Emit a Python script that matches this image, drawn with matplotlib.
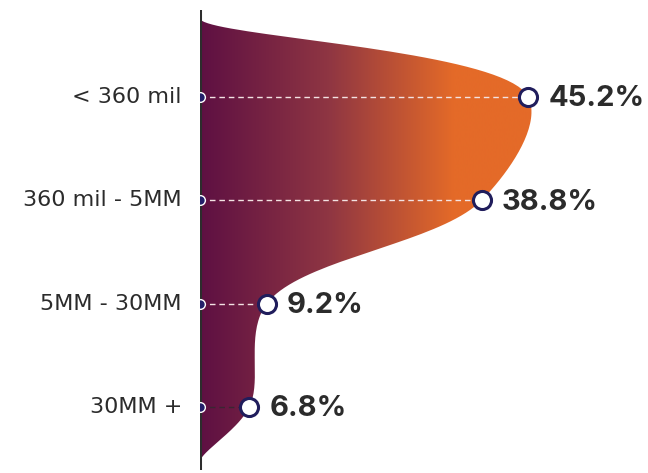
import numpy as np
import matplotlib.pyplot as plt
from matplotlib.path import Path
from matplotlib.patches import PathPatch
from matplotlib.colors import LinearSegmentedColormap

# Share of customers by revenue band
bands = ["< 360 mil", "360 mil - 5MM", "5MM - 30MM", "30MM +"]
shares = [45.2, 38.8, 9.2, 6.8]

# the filled shape closes on the axis just above and below the bands
top_pad = -0.75
bottom_pad = 3.52

plt.rcParams['font.family'] = ['DejaVu Sans']

fig = plt.figure(figsize=(6.48, 4.73), dpi=100)
ax = fig.add_axes([200 / 648, 3 / 473, 448 / 648, 460 / 473])
ax.set_xlim(0, 61.7)
ax.set_ylim(3.61, -0.84)
ax.axis('off')


def catmull_rom(pts, alpha=0.5, steps=40):
    # centripetal Catmull-Rom; first and last points only steer the end tangents
    pts = np.asarray(pts, dtype=float)
    out = [pts[1]]
    for i in range(1, len(pts) - 2):
        p0, p1, p2, p3 = pts[i - 1], pts[i], pts[i + 1], pts[i + 2]
        l01 = np.linalg.norm(p1 - p0)
        l12 = np.linalg.norm(p2 - p1)
        l23 = np.linalg.norm(p3 - p2)
        a_, a2 = l01 ** alpha, l01 ** (2 * alpha)
        b_, b2 = l12 ** alpha, l12 ** (2 * alpha)
        c_, cc = l23 ** alpha, l23 ** (2 * alpha)
        c1 = (p1 * (2 * a2 + 3 * a_ * b_ + b2) - p0 * b2 + p2 * a2) / (3 * a_ * (a_ + b_))
        c2 = (p2 * (2 * cc + 3 * c_ * b_ + b2) + p1 * cc - p3 * b2) / (3 * c_ * (c_ + b_))
        t = np.linspace(0, 1, steps)[1:, None]
        seg = ((1 - t) ** 3 * p1 + 3 * (1 - t) ** 2 * t * c1
               + 3 * (1 - t) * t ** 2 * c2 + t ** 3 * p2)
        out.extend(seg)
    return np.array(out)


ys = np.arange(len(bands))
edge_x = [0, 0] + shares + [0, 0]
edge_y = [top_pad - 0.07, top_pad] + list(ys) + [bottom_pad, bottom_pad + 0.1]

to_px = ax.transData
px = to_px.transform(np.column_stack([edge_x, edge_y]))
curve = to_px.inverted().transform(catmull_rom(px))
poly = np.vstack([curve, [[0, bottom_pad], [0, top_pad]]])
shape = PathPatch(Path(poly), facecolor='none', edgecolor='none')
ax.add_patch(shape)

# purple-to-orange gradient clipped to the shape
grad = LinearSegmentedColormap.from_list('band', ['#5e1042', '#8e3543', '#e46a28'])
xs = np.linspace(0, 61.7, 600)
vals = np.clip(xs / 35.0, 0, 1)[None, :]
img = ax.imshow(vals, cmap=grad, aspect='auto', extent=(0, 61.7, 3.61, -0.84),
                interpolation='bilinear', zorder=1)
img.set_clip_path(shape)

ax.axvline(0, color='#2d2d2d', lw=2.2, zorder=3)

dash_colors = ['#f3e3e3', '#f3e3e3', '#f3e3e3', '#3a2632']
for i, (name, val) in enumerate(zip(bands, shares)):
    ax.plot([0, val], [i, i], color=dash_colors[i], lw=1, ls=(0, (4, 2.8)), zorder=2)
    ax.plot(0, i, 'o', ms=7, mfc='#23206a', mec='white', mew=1, zorder=4)
    ax.plot(val, i, 'o', ms=13, mfc='white', mec='#201d5c', mew=2.2, zorder=5)
    ax.annotate(name, (0, i), xytext=(-18, 0), textcoords='offset pixels',
                ha='right', va='center', fontsize=16, color='#2b2b2b',
                annotation_clip=False)
    ax.annotate(f"{val}%", (val, i), xytext=(20, -2), textcoords='offset pixels',
                ha='left', va='center', fontsize=21, fontweight='bold',
                family='Inter', color='#2b2b2b', annotation_clip=False)

fig.savefig("out.png", dpi=100)
